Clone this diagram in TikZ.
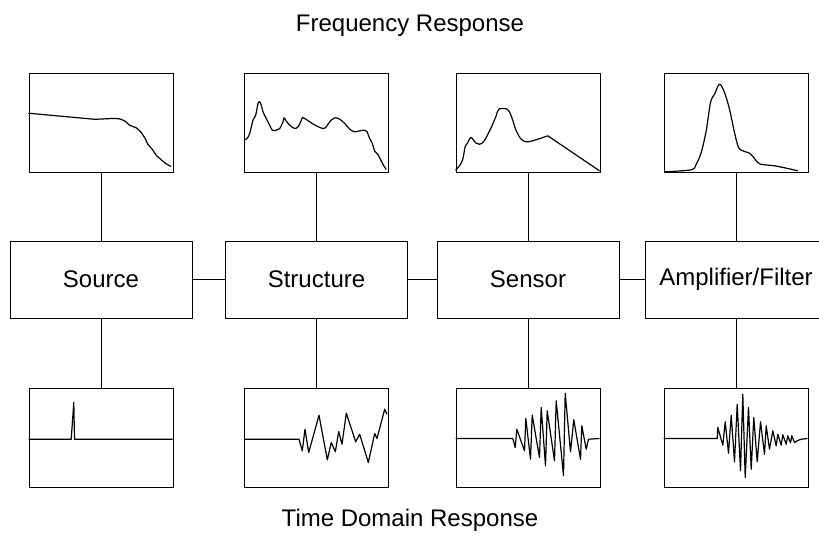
\documentclass[tikz,border=0pt]{standalone}
\usepackage{fontspec}
\setmainfont{Liberation Sans}
\usetikzlibrary{positioning}

\begin{document}
\begin{tikzpicture}[
                x=0.5pt,y=-0.5pt,
                every node/.style={font=\fontsize{12}{14}\selectfont},
                block/.style={draw,line width=0.5pt,minimum width=91pt,minimum height=38.5pt,inner sep=0pt},
                frame/.style={draw,line width=0.5pt,minimum width=72pt,minimum height=49.5pt,inner sep=0pt},
                trace/.style={line width=0.6pt,line join=round}
            ]
                \useasboundingbox (0,0) rectangle (819,547);
                \node (freq) at (410,26) {Frequency Response};
                \node (time) at (410,520) {Time Domain Response};
                \node [block] (src) at (101,279.5) {Source};
                \node [block] (str) at (316.5,279.5) {Structure};
                \node [block] (sen) at (528,279.5) {Sensor};
                \node [block] (amp) at (736,279.5) {Amplifier/Filter};
                \foreach \b/\x in {src/101,str/316.5,sen/528,amp/736} {
                    \node [frame] (f\b) at (\x,122.5) {};
                    \node [frame] (t\b) at (\x,437.5) {};
                    \draw [line width=0.5pt] (f\b) -- (\b);
                    \draw [line width=0.5pt] (\b) -- (t\b);
                }
                \draw [line width=0.5pt] (src) -- (str);
                \draw [line width=0.5pt] (str) -- (sen);
                \draw [line width=0.5pt] (sen) -- (amp);
                % frequency response
                \begin{scope}[shift={(fsrc.north west)}]
                    \draw [trace] plot [smooth] coordinates {(0,40.7) (57.7,46) (67.7,46.7) (87.7,46) (96,48.3) (101,52.7) (107.7,55.3) (112.7,60) (117,66.7) (119.3,71.7) (123.7,76.7) (127.7,82.7) (132.7,87.3) (137.7,91.3) (142.7,94)};
                \end{scope}
                \begin{scope}[shift={(fstr.north west)}]
                    \draw [trace] plot [smooth] coordinates {(0,67.7) (3,66) (5.7,61) (9,47.7) (11.7,42.7) (14,31) (15.7,29.3) (17.3,32.7) (19,39.3) (22.3,46) (25.7,52.7) (28.3,57.7) (32.3,57.7) (35.7,56) (39,49.3) (40,45.3) (41.7,47.7) (45.7,52.7) (50.7,56) (54,54.3) (56.7,49.3) (58.3,45.3) (60.7,46) (65.7,49.3) (72.3,53.3) (79,56) (82.3,54.3) (85.7,49.3) (90.7,45.3) (95.7,46.7) (100.7,51) (105.7,56.7) (110.7,59.3) (115.7,58.3) (120.7,57.7) (123,59.3) (125.7,66) (128.3,71) (130.7,78.7) (134,82) (137.3,88.7) (140.7,94.7) (142.3,97)};
                \end{scope}
                \begin{scope}[shift={(fsen.north west)}]
                    \draw [trace] plot [smooth] coordinates {(0,97.7) (4,93.3) (7.3,86.7) (9.7,74) (12.3,70) (15,65) (17.3,66.7) (20.7,70.7) (24,71.7) (27.3,70) (30.7,65) (35.7,55) (40.7,43.3) (43.3,36.7) (51.7,36.7) (55.7,43.3) (60.7,58.3) (65.7,66.7) (70.7,69.3) (75.7,68.7) (82.3,66.7) (92.3,63.3)} -- (144,98.3);
                \end{scope}
                \begin{scope}[shift={(famp.north west)}]
                    \draw [trace] plot [smooth] coordinates {(1,99.3) (27.7,97.3) (32.7,91.7) (37.7,80) (42.7,58.3) (47,30) (51,21.7) (56,11.7) (61,20) (66,36.7) (71,60) (75,75) (79.3,78.3) (86,80.7) (90.3,85) (92.7,88.3) (97,91.7) (111,93.3) (124.3,96) (134.3,98.3)};
                \end{scope}
                % time domain response
                \begin{scope}[shift={(tsrc.north west)}]
                    \draw [trace] (0,51.7) -- (42.7,51.7) -- (45.3,15) -- (46,51.7) -- (144,51.7);
                \end{scope}
                \begin{scope}[shift={(tstr.north west)}]
                    \draw [trace] plot coordinates {(0,51.7) (55,51.7) (58.3,63.3) (61,41.7) (64.7,65) (75,27.7) (83.3,72.3) (87.3,55) (91.3,64.3) (94.7,44) (98,56.7) (102.3,25.7) (111.7,54.3) (115.7,46.7) (124.3,75) (130.7,46) (133,51) (140.7,21.7) (143,26.7)};
                \end{scope}
                \begin{scope}[shift={(tsen.north west)}]
                    \draw [trace] plot coordinates {(0,51) (57.3,51) (59.7,60) (61.3,41.7) (69,63.3) (70.3,31) (75,71.7) (76.7,27.7) (84,70) (85.7,20) (90,78.3) (91.7,23.3) (99,73.3) (100.7,13.3) (108,88.3) (109.7,5.7) (115,64.3) (118.3,32.3) (125,71.7) (126.3,38.3) (130.7,61.7) (133,51.7) (144,51)};
                \end{scope}
                \begin{scope}[shift={(tamp.north west)}]
                    \draw [trace] plot coordinates {(0,51) (53.7,51) (54.3,40) (59.3,57.7) (61.7,34.3) (65,65.7) (67.7,27.7) (71,74.3) (73.7,16.7) (77,83.3) (79.3,6.7) (81.7,90) (85,20) (87.7,81.7) (90.3,30) (93.7,74.3) (97,34.3) (101,66.7) (102.7,38.3) (106,61.7) (109.3,43.3) (112.7,58.3) (114.3,46.7) (117.7,57.7) (119.3,47.3) (122.7,56.7) (124.3,48.3) (127,55.3) (128.3,48.3) (131,55) (133.7,53.3) (137.7,51.7) (144,51)};
                \end{scope}
            \end{tikzpicture}
\end{document}
